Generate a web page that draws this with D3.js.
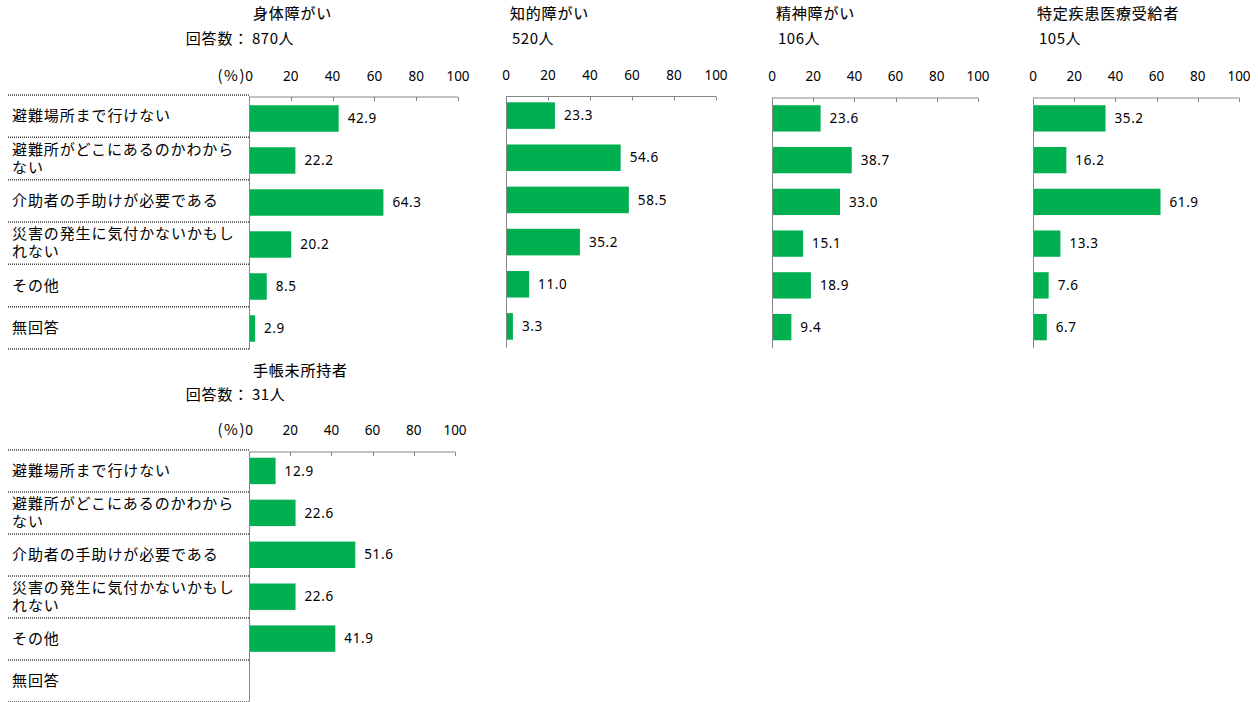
<!DOCTYPE html>
<html lang="ja"><head><meta charset="utf-8">
<script src="https://cdn.jsdelivr.net/npm/d3@7"></script>
<style>
html,body{margin:0;padding:0;background:#fff;}
svg{display:block;}
text{font-family:"Noto Sans CJK JP","Noto Sans",sans-serif;fill:#000;}
.num{font-family:"Noto Sans","Open Sans",sans-serif;}
.cat{font-family:"Liberation Sans","Noto Sans CJK JP",sans-serif;}
</style></head><body>
<svg id="chart" width="1258" height="702"></svg>
<script>
// ---- data ----
const categories = ["避難場所まで行けない","避難所がどこにあるのかわからない","介助者の手助けが必要である","災害の発生に気付かないかもしれない","その他","無回答"];
const panelTitles = ["身体障がい","知的障がい","精神障がい","特定疾患医療受給者","手帳未所持者"];
const panelCounts = ["870人","520人","106人","105人","31人"];
const valuesShintai = [42.9,22.2,64.3,20.2,8.5,2.9];
const valuesChiteki = [23.3,54.6,58.5,35.2,11.0,3.3];
const valuesSeishin = [23.6,38.7,33.0,15.1,18.9,9.4];
const valuesTokutei = [35.2,16.2,61.9,13.3,7.6,6.7];
const valuesTecho = [12.9,22.6,51.6,22.6,41.9,null];
const tickValues = [0,20,40,60,80,100];

// ---- layout ----
const layouts = [
  {x0:249,x1:458,axisY:97,bandTop:97.5,bottom:349.5,titleY:15,countY:40,tickY:77,labels:true,sepTop:95,sepBottom:349},
  {x0:506,x1:716,axisY:96.5,bandTop:94.5,bottom:347.5,titleY:15,countY:40,tickY:76,labels:false},
  {x0:772,x1:978,axisY:98,bandTop:97.5,bottom:348,titleY:15,countY:40,tickY:77,labels:false},
  {x0:1033,x1:1239,axisY:98,bandTop:97.5,bottom:348,titleY:15,countY:40,tickY:77,labels:false},
  {x0:249,x1:455,axisY:452,bandTop:450,bottom:701.5,titleY:372,countY:396,tickY:431,labels:true,sepTop:450,sepBottom:702}
];
const allValues = [valuesShintai,valuesChiteki,valuesSeishin,valuesTokutei,valuesTecho];

const svg = d3.select("#chart");
const green = "#00b050", axisCol = "#868686";

function wrapLabel(s, n){ const out=[]; for(let i=0;i<s.length;i+=n) out.push(s.slice(i,i+n)); return out; }

layouts.forEach((L,pi)=>{
  const vals = allValues[pi];
  const g = svg.append("g");
  const x = d3.scaleLinear().domain([0,100]).range([L.x0,L.x1]);
  const y = d3.scaleBand().domain(categories).range([L.bandTop,L.bottom]).paddingInner(0.37).paddingOuter(0.185);

  // title and count
  g.append("text").attr("x",L.x0+4).attr("y",L.titleY).attr("dominant-baseline","middle")
    .style("font-size","15px").style("letter-spacing","0.8px").style("stroke","#000").style("stroke-width","0.12px").text(panelTitles[pi]);
  if(L.labels){
    g.append("text").attr("x",L.x0).attr("y",L.countY).attr("dominant-baseline","middle")
      .attr("text-anchor","end").style("font-size","15px").style("letter-spacing","0.8px").text("回答数：");
    g.append("text").attr("x",L.x0+3).attr("y",L.countY).attr("dominant-baseline","middle")
      .style("font-size","15px").style("letter-spacing","0.5px").text(panelCounts[pi]);
    g.append("text").attr("x",L.x0-3).attr("y",L.tickY).attr("dominant-baseline","middle")
      .attr("text-anchor","end").style("font-size","15px").style("letter-spacing","1.5px").text("(%)");
  } else {
    g.append("text").attr("x",L.x0+6).attr("y",L.countY).attr("dominant-baseline","middle")
      .style("font-size","15px").style("letter-spacing","0.5px").text(panelCounts[pi]);
  }

  // tick labels
  g.selectAll(".tl").data(tickValues).join("text").attr("class","num")
    .attr("x",d=>x(d)).attr("y",L.tickY).attr("text-anchor","middle").attr("dominant-baseline","middle")
    .style("font-size","13.5px").text(d=>d);

  // category labels with dotted separators
  if(L.labels){
    const ys = d3.scaleBand().domain(categories).range([L.sepTop,L.sepBottom]);
    const seps = categories.map(c=>ys(c)).concat([L.sepBottom]);
    g.selectAll(".sep").data(seps).join("line")
      .attr("x1",8).attr("x2",L.x0+1).attr("y1",d=>d).attr("y2",d=>d)
      .attr("stroke","#444").attr("stroke-width",1.5).attr("stroke-dasharray","1,1");
    categories.forEach(c=>{
      const lines = wrapLabel(c,14);
      const cy = ys(c)+ys.bandwidth()/2;
      const lh = 18;
      lines.forEach((ln,i)=>{
        g.append("text").attr("class","cat").attr("x",12).attr("y",cy+(i-(lines.length-1)/2)*lh+5)
          .style("font-size","15px").style("letter-spacing","0.9px").text(ln);
      });
    });
  }

  // bars
  const data = categories.map((c,i)=>({c,v:vals[i]})).filter(d=>d.v!=null);
  g.selectAll(".bar").data(data).join("rect")
    .attr("x",x(0)).attr("y",d=>y(d.c)).attr("width",d=>x(d.v)-x(0)).attr("height",y.bandwidth())
    .attr("fill",green);
  g.selectAll(".vl").data(data).join("text").attr("class","num")
    .attr("x",d=>x(d.v)+9).attr("y",d=>y(d.c)+y.bandwidth()/2+1).attr("dominant-baseline","middle")
    .style("font-size","13.5px").style("letter-spacing","0.6px").text(d=>d.v.toFixed(1));

  // axes
  g.append("line").attr("x1",x(0)).attr("x2",x(100)).attr("y1",L.axisY).attr("y2",L.axisY)
    .attr("stroke",axisCol).attr("stroke-width",1);
  g.selectAll(".tk").data(tickValues).join("line")
    .attr("x1",d=>Math.round(x(d))+0.5).attr("x2",d=>Math.round(x(d))+0.5)
    .attr("y1",L.axisY).attr("y2",L.axisY+4).attr("stroke",axisCol);
  g.append("line").attr("x1",Math.round(x(0))+0.5).attr("x2",Math.round(x(0))+0.5)
    .attr("y1",L.axisY).attr("y2",L.bottom).attr("stroke",axisCol).attr("stroke-width",1);
});
</script>
</body></html>
